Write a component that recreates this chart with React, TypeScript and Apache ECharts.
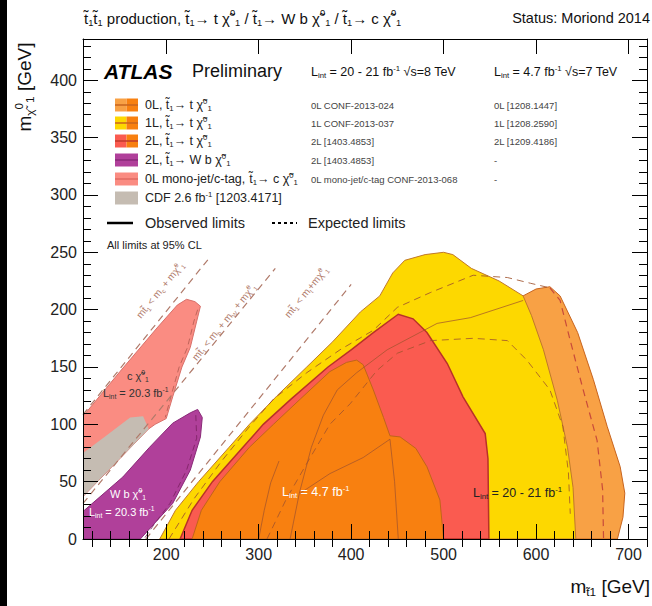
import React, { useEffect, useRef } from "react";
import * as echarts from "echarts";

const FONT = "'Liberation Sans', Arial, Helvetica, sans-serif";

// axes
const X_MIN = 110;
const X_MAX = 720;
const Y_MIN = 0;
const Y_MAX = 436;
const xLabelTicks = [200, 300, 400, 500, 600, 700];
const xMinorTicks = [120, 140, 160, 180, 220, 240, 260, 280, 320, 340, 360, 380, 420, 440, 460, 480, 520, 540, 560, 580, 620, 640, 660, 680, 720];
const yLabelTicks = [0, 50, 100, 150, 200, 250, 300, 350, 400];
const yMinorTicks = [10, 20, 30, 40, 60, 70, 80, 90, 110, 120, 130, 140, 160, 170, 180, 190, 210, 220, 230, 240, 260, 270, 280, 290, 310, 320, 330, 340, 360, 370, 380, 390, 410, 420, 430];

// excluded regions [m_stop, m_LSP]
const zeroLepton8TeV = [[560, 0], [560, 205], [586, 212], [600, 218], [615, 220], [626, 212], [645, 180], [662, 139], [677, 98], [691, 63], [696, 40], [694, 19], [688, 0]];
const oneLepton8TeV = [[193, 0], [210, 25], [235, 50], [268, 80], [290, 100], [320, 125], [352, 150], [380, 172], [410, 198], [431, 212], [445, 232], [458, 243], [480, 248], [500, 250], [510, 248], [530, 236], [560, 225], [586, 212], [595, 195], [608, 165], [623, 121], [634, 80], [640, 45], [643, 0]];
const twoLepton8TeV = [[215, 0], [228, 25], [250, 50], [283, 80], [305, 100], [335, 122], [375, 150], [400, 165], [424, 180], [451, 196], [467, 192], [482, 180], [504, 153], [521, 124], [545, 92], [548, 70], [549, 0]];
const lepton7TeV = [[228, 0], [238, 25], [258, 50], [290, 80], [316, 100], [345, 122], [377, 146], [395, 154], [406, 156], [413, 152], [424, 130], [435, 106], [442, 90], [453, 89], [470, 79], [482, 63], [496, 34], [500, 0]];
const wbRegion = [[110, 0], [110, 24], [153, 54], [182, 80], [207, 101], [226, 110], [234, 113], [239, 106], [237, 89], [226, 60], [207, 31], [190, 16], [172, 0]];
const monojetRegion = [[110, 37], [110, 107], [150, 146], [190, 184], [212, 204], [222, 209], [231, 207], [237, 203], [233, 190], [226, 167], [217, 150], [207, 124], [200, 105], [188, 100], [181, 96]];
const cdfRegion = [[110, 37], [110, 75], [135, 90], [161, 106], [175, 107], [181, 96]];

// limit lines
const exp1L = [[203, 0], [230, 35], [260, 68], [290, 98], [316, 122], [352, 145], [388, 165], [424, 182], [450, 202], [486, 215], [532, 230], [569, 228], [594, 223], [615, 219]];
const exp0L = [[615, 219], [626, 208], [637, 173], [651, 130], [666, 86], [672, 43], [673, 0]];
const exp2L = [[309, 0], [330, 35], [355, 70], [377, 100], [399, 118], [417, 136], [428, 147], [450, 162], [486, 173], [532, 175], [569, 173], [590, 156], [615, 130], [629, 98], [635, 58], [637, 22]];
const obs7TeVa = [[334, 0], [344, 40], [357, 80], [370, 108], [385, 130], [406, 145], [439, 165], [493, 188], [529, 193], [586, 208]];
const obs7TeVb = [[345, 40], [377, 57], [413, 71], [442, 87], [447, 50], [451, 0]];
const obs7TeVc = [[300, 0], [306, 25], [313, 49], [322, 68]];
const expWb = [[232, 108], [233, 88], [222, 60], [204, 31], [188, 14], [176, 0]];
const expMonojet = [[234, 200], [230, 190], [223, 167], [214, 150], [205, 124], [199, 106]];

// kinematic limits
const kinCharm = [[110, 108.5], [245, 243.5]];
const kinWb = [[110, 31], [318, 236]];
const kinTop = [[178, 0], [400, 222]];

const COL = {
  zeroL: "#f8a145",
  oneL: "#fdd800",
  twoL: "#fa5b50",
  sevenTeV: "#f88010",
  wb: "#b0409a",
  mono: "#fa8c82",
  cdf: "#c5bcb2",
  line: "#a0522d",
  kin: "#b07a6a",
};

type Part = [string, string];
const rt = (parts: Part[]) => parts.map(([t, k]) => `{${k}|${t}}`).join("");
const rich = (size: number, fill: string) => ({
  n: { fontSize: size, fill, color: fill, fontFamily: FONT, lineHeight: size * 1.25, verticalAlign: "middle" },
  b: { fontSize: size, fill, color: fill, fontFamily: FONT, lineHeight: size * 1.25, verticalAlign: "middle", fontWeight: "bold", fontStyle: "italic" },
  sub: { fontSize: size * 0.62, fill, color: fill, fontFamily: FONT, lineHeight: size * 0.62, verticalAlign: "bottom" },
  sup: { fontSize: size * 0.62, fill, color: fill, fontFamily: FONT, lineHeight: size * 0.62, verticalAlign: "top" },
});

const T = "t\u0303";
const CHI = "\u03c7\u0303";
const chi01: Part[] = [[CHI, "n"], ["0", "sup"], ["1", "sub"]];
const stop1: Part[] = [[T, "n"], ["1", "sub"]];

function textEl(x: number, y: number, parts: Part[], size: number, fill: string, opts: any = {}) {
  return {
    type: "text",
    x,
    y,
    z: 100,
    rotation: opts.rotation || 0,
    silent: true,
    style: {
      text: rt(parts),
      rich: rich(size, fill),
      align: opts.align || "left",
      verticalAlign: opts.verticalAlign || "middle",
      fontFamily: FONT,
      fontSize: size,
      fill,
    },
  };
}

function polySeries(name: string, pts: number[][], fill: string, stroke: string, lw: number) {
  return {
    type: "custom",
    name,
    data: pts,
    silent: true,
    clip: true,
    renderItem: (params: any, api: any) => {
      if (params.dataIndex !== 0) return null;
      return {
        type: "polygon",
        shape: { points: pts.map((p) => api.coord(p)) },
        style: { fill, stroke, lineWidth: lw },
      };
    },
  };
}

function lineSeries(name: string, pts: number[][], color: string, width: number, dashed: boolean | number[], opacity = 1) {
  return {
    type: "line",
    name,
    data: pts,
    symbol: "none",
    silent: true,
    animation: false,
    lineStyle: { color, width, type: dashed === true ? [6, 4] : dashed === false ? "solid" : dashed, opacity },
  };
}

const legendRows: { y: number; label: Part[]; c8: string; c7: string | null; mid: string; right: string; lineCol: string | null }[] = [
  { y: 105, label: [["0L, ", "n"], ...stop1, ["\u2192 t ", "n"], ...chi01], c8: COL.zeroL, c7: COL.sevenTeV, mid: "0L CONF-2013-024", right: "0L [1208.1447]", lineCol: "#c8641e" },
  { y: 123, label: [["1L, ", "n"], ...stop1, ["\u2192 t ", "n"], ...chi01], c8: COL.oneL, c7: COL.sevenTeV, mid: "1L CONF-2013-037", right: "1L [1208.2590]", lineCol: "#c8641e" },
  { y: 141, label: [["2L, ", "n"], ...stop1, ["\u2192 t ", "n"], ...chi01], c8: COL.twoL, c7: COL.sevenTeV, mid: "2L [1403.4853]", right: "2L [1209.4186]", lineCol: "#c0392b" },
  { y: 160, label: [["2L, ", "n"], ...stop1, ["\u2192 W b ", "n"], ...chi01], c8: COL.wb, c7: null, mid: "2L [1403.4853]", right: "-", lineCol: "#8a2a78" },
  { y: 179, label: [["0L mono-jet/c-tag, ", "n"], ...stop1, ["\u2192 c ", "n"], ...chi01], c8: COL.mono, c7: null, mid: "0L mono-jet/c-tag CONF-2013-068", right: "-", lineCol: "#e06a60" },
  { y: 198, label: [["CDF 2.6 fb", "n"], ["-1", "sup"], [" [1203.4171]", "n"]], c8: COL.cdf, c7: null, mid: "", right: "", lineCol: null },
];

export default function App() {
  const ref = useRef<HTMLDivElement>(null);
  useEffect(() => {
    if (!ref.current) return;
    const chart = echarts.init(ref.current, undefined, { renderer: "svg" });

    const baseX = {
      type: "value",
      min: X_MIN,
      max: X_MAX,
      z: 10,
      splitLine: { show: false },
      axisLine: { show: true, onZero: false, lineStyle: { color: "#000", width: 1 } },
    };
    const baseY = {
      type: "value",
      min: Y_MIN,
      max: Y_MAX,
      z: 10,
      splitLine: { show: false },
      axisLine: { show: true, onZero: false, lineStyle: { color: "#000", width: 1 } },
    };
    const major = (vals: number[]) => ({ show: true, inside: true, length: 15, customValues: vals, lineStyle: { color: "#000", width: 1 } });
    const minor = (vals: number[]) => ({ show: true, inside: true, length: 8, customValues: vals, lineStyle: { color: "#000", width: 1 } });
    const label = (vals: number[], margin: number) => ({ show: true, customValues: vals, margin, fontSize: 16, color: "#222", fontFamily: FONT });

    const graphics: any[] = [];
    // title
    graphics.push(textEl(84, 18, [...stop1, ...stop1, [" production, ", "n"], ...stop1, ["\u2192 t ", "n"], ...chi01, [" / ", "n"], ...stop1, ["\u2192 W b ", "n"], ...chi01, [" / ", "n"], ...stop1, ["\u2192 c ", "n"], ...chi01], 15, "#111"));
    graphics.push(textEl(650, 18, [["Status: Moriond 2014", "n"]], 14.5, "#111", { align: "right" }));
    // header
    graphics.push(textEl(104, 71, [["ATLAS", "b"]], 21, "#000"));
    graphics.push(textEl(192, 71, [["Preliminary", "n"]], 18, "#111"));
    graphics.push(textEl(311, 72, [["L", "n"], ["int", "sub"], [" = 20 - 21 fb", "n"], ["-1", "sup"], [" \u221as=8 TeV", "n"]], 12.5, "#111"));
    graphics.push(textEl(494, 72, [["L", "n"], ["int", "sub"], [" = 4.7 fb", "n"], ["-1", "sup"], [" \u221as=7 TeV", "n"]], 12.5, "#111"));
    // legend rows
    legendRows.forEach((r) => {
      if (r.c7) {
        graphics.push({ type: "rect", z: 100, silent: true, shape: { x: 115, y: r.y - 6.5, width: 11.5, height: 13 }, style: { fill: r.c8 } });
        graphics.push({ type: "rect", z: 100, silent: true, shape: { x: 126.5, y: r.y - 6.5, width: 11.5, height: 13 }, style: { fill: r.c7 } });
      } else {
        graphics.push({ type: "rect", z: 100, silent: true, shape: { x: 115, y: r.y - 6.5, width: 23, height: 13 }, style: { fill: r.c8 } });
      }
      if (r.lineCol) {
        graphics.push({ type: "line", z: 101, silent: true, shape: { x1: 115, y1: r.y, x2: 138, y2: r.y }, style: { stroke: r.lineCol, lineWidth: 1.5 } });
      }
      graphics.push(textEl(145, r.y, r.label, 12.5, "#222"));
      if (r.mid) graphics.push(textEl(311, r.y, [[r.mid, "n"]], 9.5, "#444"));
      if (r.right) graphics.push(textEl(494, r.y, [[r.right, "n"]], 9.5, "#444"));
    });
    graphics.push({ type: "line", z: 100, silent: true, shape: { x1: 107, y1: 223, x2: 133, y2: 223 }, style: { stroke: "#000", lineWidth: 2.5 } });
    graphics.push(textEl(145, 223, [["Observed limits", "n"]], 14.5, "#222"));
    graphics.push({ type: "line", z: 100, silent: true, shape: { x1: 272, y1: 223, x2: 297, y2: 223 }, style: { stroke: "#000", lineWidth: 2, lineDash: [3, 3] } });
    graphics.push(textEl(308, 223, [["Expected limits", "n"]], 14.5, "#222"));
    graphics.push(textEl(107, 245, [["All limits at 95% CL", "n"]], 11, "#222"));
    // kinematic labels
    const kinRot = (51 * Math.PI) / 180;
    graphics.push(textEl(160, 290, [["m", "n"], ...stop1, [" < m", "n"], ["c", "sub"], [" + m", "n"], ...chi01], 10, COL.kin, { rotation: kinRot, align: "center" }));
    graphics.push(textEl(224, 322, [["m", "n"], ...stop1, [" < m", "n"], ["b", "sub"], [" + m", "n"], ["W", "sub"], [" + m", "n"], ...chi01], 10, COL.kin, { rotation: kinRot, align: "center" }));
    graphics.push(textEl(306, 292, [["m", "n"], ...stop1, [" < m", "n"], ["t", "sub"], ["+m", "n"], ...chi01], 10, COL.kin, { rotation: kinRot, align: "center" }));
    // region labels
    graphics.push(textEl(127, 376, [["c ", "n"], ...chi01], 11, "#333"));
    graphics.push(textEl(103, 393, [["L", "n"], ["int", "sub"], [" = 20.3 fb", "n"], ["-1", "sup"]], 11, "#333"));
    graphics.push(textEl(110, 494, [["W b ", "n"], ...chi01], 11, "#fff"));
    graphics.push(textEl(89, 512, [["L", "n"], ["int", "sub"], [" = 20.3 fb", "n"], ["-1", "sup"]], 11, "#fff"));
    graphics.push(textEl(282, 492, [["L", "n"], ["int", "sub"], [" = 4.7 fb", "n"], ["-1", "sup"]], 12.5, "#fff"));
    graphics.push(textEl(473, 493, [["L", "n"], ["int", "sub"], [" = 20 - 21 fb", "n"], ["-1", "sup"]], 12.5, "#222"));
    // axis titles
    graphics.push(textEl(24, 87, [["m", "n"], [CHI, "sub"], ["0", "sup"], ["1", "sub"], [" [GeV]", "n"]], 19, "#111", { rotation: Math.PI / 2, align: "center" }));
    graphics.push(textEl(650, 586, [["m", "n"], [T, "sub"], ["1", "sub"], [" [GeV]", "n"]], 19, "#111", { align: "right" }));

    chart.setOption({
      animation: false,
      backgroundColor: "#fff",
      grid: { left: 83, top: 39, right: 5, bottom: 67, containLabel: false },
      xAxis: [
        { ...baseX, position: "bottom", axisTick: major(xLabelTicks), axisLabel: label(xLabelTicks, 7) },
        { ...baseX, position: "bottom", axisLine: { show: false }, axisTick: minor(xMinorTicks), axisLabel: { show: false } },
        { ...baseX, position: "top", axisTick: major(xLabelTicks), axisLabel: { show: false } },
        { ...baseX, position: "top", axisLine: { show: false }, axisTick: minor(xMinorTicks), axisLabel: { show: false } },
      ],
      yAxis: [
        { ...baseY, position: "left", axisTick: major(yLabelTicks), axisLabel: label(yLabelTicks, 6) },
        { ...baseY, position: "left", axisLine: { show: false }, axisTick: minor(yMinorTicks), axisLabel: { show: false } },
        { ...baseY, position: "right", axisTick: major(yLabelTicks), axisLabel: { show: false } },
        { ...baseY, position: "right", axisLine: { show: false }, axisTick: minor(yMinorTicks), axisLabel: { show: false } },
      ],
      series: [
        polySeries("0L 8TeV", zeroLepton8TeV, COL.zeroL, "#c8641e", 1),
        polySeries("1L 8TeV", oneLepton8TeV, COL.oneL, "#c0782a", 1),
        polySeries("2L 8TeV", twoLepton8TeV, COL.twoL, "#b83228", 1.5),
        polySeries("7TeV", lepton7TeV, COL.sevenTeV, "#c0641a", 1),
        polySeries("mono-jet", monojetRegion, COL.mono, "#d8706a", 1),
        polySeries("CDF", cdfRegion, COL.cdf, "none", 0),
        polySeries("Wb", wbRegion, COL.wb, "#8a2a78", 1),
        lineSeries("exp1L", exp1L, COL.line, 1, [7, 5], 0.85),
        lineSeries("exp0L", exp0L, "#c84a3a", 1.2, [7, 5]),
        lineSeries("exp2L", exp2L, COL.line, 1, [7, 5], 0.8),
        lineSeries("obs7a", obs7TeVa, COL.line, 0.9, false, 0.8),
        lineSeries("obs7b", obs7TeVb, COL.line, 0.9, false, 0.8),
        lineSeries("obs7c", obs7TeVc, COL.line, 0.9, false, 0.8),
        lineSeries("expWb", expWb, "#7a2060", 1, [6, 4], 0.8),
        lineSeries("expMono", expMonojet, "#b05a50", 1, [6, 4], 0.8),
        lineSeries("kinCharm", kinCharm, COL.kin, 1.2, [7, 5]),
        lineSeries("kinWb", kinWb, COL.kin, 1.2, [7, 5]),
        lineSeries("kinTop", kinTop, COL.kin, 1.2, [7, 5]),
      ],
      graphic: graphics,
    });
    return () => chart.dispose();
  }, []);

  return (
    <div style={{ position: "fixed", left: 0, top: 0, width: 652, height: 606, background: "#fff" }}>
      <div ref={ref} style={{ position: "absolute", left: 0, top: 0, width: 652, height: 606 }} />
      <div style={{ position: "absolute", left: 0, top: 0, width: 7, height: 606, background: "#000" }} />
    </div>
  );
}
